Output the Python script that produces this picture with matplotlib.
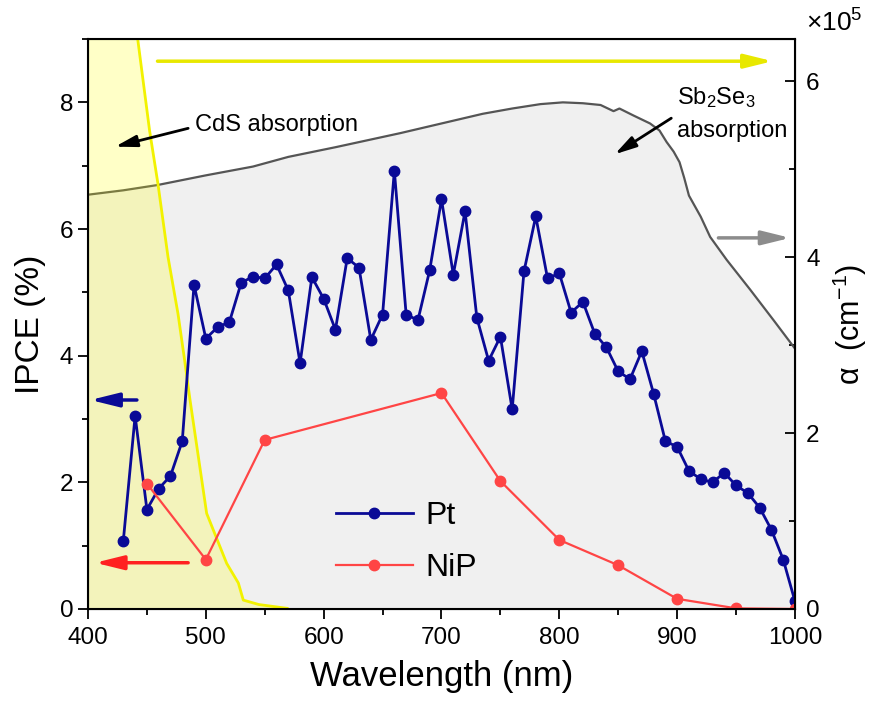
import matplotlib.pyplot as plt
from matplotlib.ticker import MultipleLocator

plt.rcParams['font.family'] = ['Liberation Sans', 'DejaVu Sans']
plt.rcParams['mathtext.fontset'] = 'custom'
plt.rcParams['mathtext.rm'] = 'Liberation Sans'
plt.rcParams['mathtext.it'] = 'Liberation Sans:italic'
plt.rcParams['mathtext.bf'] = 'Liberation Sans:bold'

# IPCE spectra (%)
pt_wl = [430, 440, 450, 460, 470, 480, 490, 500, 510, 520, 530, 540, 550, 560,
         570, 580, 590, 600, 610, 620, 630, 640, 650, 660, 670, 680, 690, 700,
         710, 720, 730, 740, 750, 760, 770, 780, 790, 800, 810, 820, 830, 840,
         850, 860, 870, 880, 890, 900, 910, 920, 930, 940, 950, 960, 970, 980,
         990, 1000]
pt_ipce = [1.08, 3.05, 1.57, 1.90, 2.10, 2.65, 5.12, 4.27, 4.45, 4.53, 5.15,
           5.25, 5.22, 5.44, 5.03, 3.88, 5.24, 4.90, 4.41, 5.54, 5.39, 4.25,
           4.65, 6.92, 4.65, 4.56, 5.35, 6.47, 5.28, 6.28, 4.60, 3.92, 4.30,
           3.15, 5.33, 6.20, 5.22, 5.30, 4.68, 4.85, 4.35, 4.13, 3.75, 3.63,
           4.07, 3.40, 2.65, 2.56, 2.18, 2.05, 2.00, 2.15, 1.95, 1.83, 1.60,
           1.25, 0.78, 0.12]

nip_wl = [450, 500, 550, 700, 750, 800, 850, 900, 950, 1000]
nip_ipce = [1.98, 0.78, 2.67, 3.41, 2.02, 1.09, 0.69, 0.16, 0.01, 0.0]

# CdS absorption edge (arb., plotted on IPCE scale)
cds_wl = [400, 430, 442.4, 452.3, 459.4, 467.9, 476.4, 482, 486.6, 500.7,
          517.7, 527.6, 531.8, 545, 569]
cds_abs = [15.0, 10.7, 8.97, 7.55, 6.71, 5.56, 4.66, 3.93, 3.30, 1.51,
           0.72, 0.41, 0.14, 0.07, 0.01]

# Sb2Se3 absorption coefficient (x1e5 cm^-1)
sb_wl = [400, 430, 459, 500, 540, 570, 610, 665, 700, 735, 760, 784, 803, 820,
         835, 846, 851, 863, 877, 885, 891, 897, 902, 906, 910, 920, 928, 942,
         962, 982, 1000]
sb_alpha = [4.71, 4.76, 4.82, 4.93, 5.03, 5.14, 5.25, 5.41, 5.52, 5.63, 5.69,
            5.74, 5.76, 5.75, 5.73, 5.66, 5.69, 5.61, 5.52, 5.44, 5.31, 5.20,
            5.08, 4.90, 4.70, 4.46, 4.23, 3.97, 3.63, 3.28, 2.96]

fig = plt.figure(figsize=(8.72, 7.11), dpi=100)
ax = fig.add_axes([0.1009, 0.1435, 0.8108, 0.8016])
ax2 = ax.twinx()
ax.set_zorder(ax2.get_zorder() + 1)
ax.patch.set_visible(False)

# absorption of Sb2Se3 on the right axis
ax2.fill_between(sb_wl, 0, sb_alpha, color='#F0F0F0', lw=0)
ax2.plot(sb_wl, sb_alpha, color='#555555', lw=1.6)
ax2.set_ylim(0, 6.48)
ax2.yaxis.set_major_locator(MultipleLocator(2))
ax2.yaxis.set_minor_locator(MultipleLocator(1))
ax2.tick_params(axis='y', which='major', direction='in', length=7, width=1.3,
                labelsize=17.5, pad=8)
ax2.tick_params(axis='y', which='minor', direction='in', length=4, width=1.3)
ax2.set_ylabel(r'α  (cm$^{-1}$)', fontsize=22, labelpad=8)
ax2.text(1.015, 1.005, r'×10$^5$', transform=ax2.transAxes, fontsize=19,
         ha='left', va='bottom')

# CdS absorption
ax.fill_between(cds_wl, 0, cds_abs, color='#FFFF00', alpha=0.22, lw=0)
ax.plot(cds_wl, cds_abs, color='#F2F200', lw=2)

ax.plot(pt_wl, pt_ipce, '-o', color='#0A0A96', lw=2, ms=7.5, label='Pt')
ax.plot(nip_wl, nip_ipce, '-o', color='#FF4545', lw=1.6, ms=7.5, label='NiP')

ax.set_xlim(400, 1000)
ax.set_ylim(0, 9)
ax.xaxis.set_major_locator(MultipleLocator(100))
ax.xaxis.set_minor_locator(MultipleLocator(50))
ax.yaxis.set_major_locator(MultipleLocator(2))
ax.yaxis.set_minor_locator(MultipleLocator(1))
ax.tick_params(which='major', direction='out', length=7, width=1.3, labelsize=17.5)
ax.tick_params(which='minor', direction='out', length=4, width=1.3)
ax.tick_params(axis='x', pad=6)
ax.set_xlabel('Wavelength (nm)', fontsize=25, labelpad=8)
ax.set_ylabel('IPCE (%)', fontsize=24, labelpad=10)
for sp in ax.spines.values():
    sp.set_linewidth(1.5)

# direction arrows
def arrow(a, start, end, color, lw, hw=0.42, hl=1.7):
    a.annotate('', xy=end, xytext=start,
               arrowprops=dict(arrowstyle=f'-|>,head_width={hw},head_length={hl}',
                               color=color, lw=lw, shrinkA=0, shrinkB=0))

arrow(ax, (459, 8.65), (981, 8.65), '#E8E800', 2.5)
arrow(ax, (935, 5.86), (996, 5.86), '#8C8C8C', 2.5)
arrow(ax, (441.5, 3.30), (402, 3.30), '#0A0A96', 2.5)
arrow(ax, (485, 0.73), (406, 0.73), '#FF2020', 2.5)
arrow(ax, (485, 7.59), (423, 7.30), 'black', 2.0, hw=0.35, hl=1.3)
arrow(ax, (895, 7.75), (847, 7.18), 'black', 2.0, hw=0.35, hl=1.3)

ax.text(491, 7.64, 'CdS absorption', fontsize=17, ha='left', va='center')
ax.text(900, 8.08, r'Sb$_2$Se$_3$', fontsize=17, ha='left', va='center')
ax.text(900, 7.55, 'absorption', fontsize=17, ha='left', va='center')

ax.legend(loc='lower left', bbox_to_anchor=(0.31, -0.005), frameon=False,
          fontsize=23, handlelength=2.4, handletextpad=0.4, labelspacing=0.68,
          markerscale=1.0)

fig.savefig('out.png', dpi=100)
